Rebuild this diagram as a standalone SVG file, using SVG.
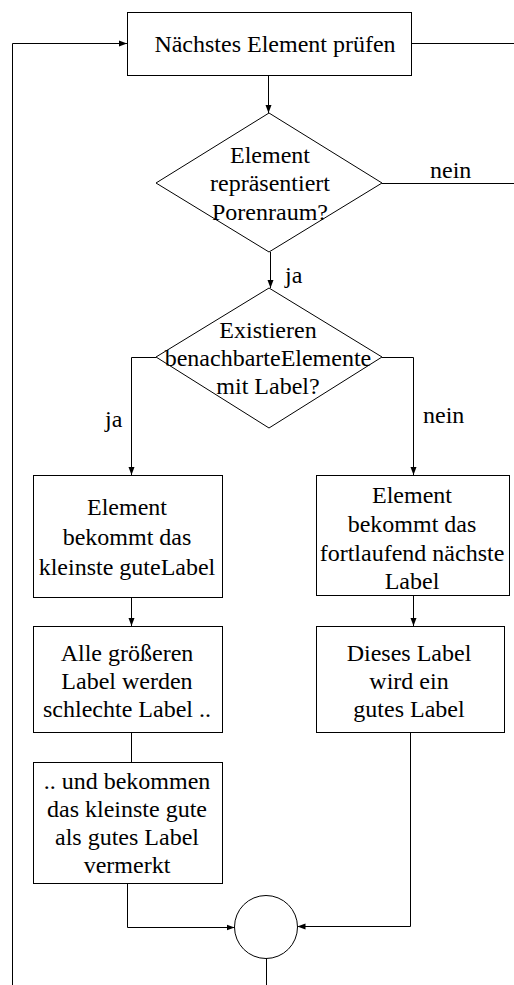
<svg xmlns="http://www.w3.org/2000/svg" width="514" height="985" viewBox="0 0 514 985">
<style>
.n{fill:#fff;stroke:#000;stroke-width:1}
.c{fill:none;stroke:#000;stroke-width:1}
text{font-family:'Liberation Serif',Tinos,'Times New Roman',Times,'DejaVu Serif','Noto Serif',serif;font-size:24px;fill:#000}
.m{text-anchor:middle}
</style>
<defs>
<marker id="ar" markerUnits="userSpaceOnUse" markerWidth="8" markerHeight="8" viewBox="0 0 8 8" refX="8" refY="4" orient="auto">
<path d="M0,1 L8,4 L0,7 Z" fill="#000"/>
</marker>
</defs>
<g id="connectors">
<path class="c" d="M12.5,985 V43.5 H127" marker-end="url(#ar)"/>
<path class="c" d="M411,43.5 H514"/>
<path class="c" d="M268.5,75 V113" marker-end="url(#ar)"/>
<path class="c" d="M382,183.5 H514"/>
<path class="c" d="M270.5,252 V288" marker-end="url(#ar)"/>
<path class="c" d="M156,357.5 H131.5 V475" marker-end="url(#ar)"/>
<path class="c" d="M382,357.5 H413.5 V475" marker-end="url(#ar)"/>
<path class="c" d="M131.5,597 V626" marker-end="url(#ar)"/>
<path class="c" d="M413.5,595 V626" marker-end="url(#ar)"/>
<path class="c" d="M131.5,732 V762"/>
<path class="c" d="M127.5,883 V927.5 H234.5" marker-end="url(#ar)"/>
<path class="c" d="M410.5,732 V926.5 H297.5" marker-end="url(#ar)"/>
<path class="c" d="M266.5,958 V985"/>
<text x="430" y="178">nein</text>
<text x="285" y="283">ja</text>
<text x="105" y="427">ja</text>
<text x="423" y="423">nein</text>
</g>
<g id="start">
<rect class="n" x="127.5" y="12.5" width="284" height="63"/>
<text class="m" x="275" y="52">Nächstes Element prüfen</text>
</g>
<g id="decision1">
<polygon class="n" points="269,113 382,183 269,252 156,183"/>
<text class="m" x="270" y="163">Element</text>
<text class="m" x="270" y="191">repräsentiert</text>
<text class="m" x="270" y="220">Porenraum?</text>
</g>
<g id="decision2">
<polygon class="n" points="269,288 382,357 269,428 156,357"/>
<text class="m" x="268" y="338">Existieren</text>
<text class="m" x="268" y="366">benachbarteElemente</text>
<text class="m" x="268" y="394">mit Label?</text>
</g>
<g id="left1">
<rect class="n" x="33.5" y="475.5" width="189" height="122"/>
<text class="m" x="127" y="515">Element</text>
<text class="m" x="127" y="545">bekommt das</text>
<text class="m" x="127" y="575">kleinste guteLabel</text>
</g>
<g id="right1">
<rect class="n" x="316.5" y="475.5" width="193" height="120"/>
<text class="m" x="412" y="503">Element</text>
<text class="m" x="412" y="532">bekommt das</text>
<text class="m" x="412" y="561">fortlaufend nächste</text>
<text class="m" x="412" y="589">Label</text>
</g>
<g id="left2">
<rect class="n" x="33.5" y="626.5" width="189" height="106"/>
<text class="m" x="127" y="661">Alle größeren</text>
<text class="m" x="127" y="689">Label werden</text>
<text class="m" x="127" y="717">schlechte Label ..</text>
</g>
<g id="right2">
<rect class="n" x="316.5" y="626.5" width="188" height="106"/>
<text class="m" x="409" y="661">Dieses Label</text>
<text class="m" x="409" y="689">wird ein</text>
<text class="m" x="409" y="717">gutes Label</text>
</g>
<g id="left3">
<rect class="n" x="33.5" y="762.5" width="189" height="121"/>
<text class="m" x="127" y="789">.. und bekommen</text>
<text class="m" x="127" y="817">das kleinste gute</text>
<text class="m" x="127" y="845">als gutes Label</text>
<text class="m" x="127" y="873">vermerkt</text>
</g>
<g id="merge">
<circle class="n" cx="266" cy="927" r="31.5"/>
</g>
</svg>
